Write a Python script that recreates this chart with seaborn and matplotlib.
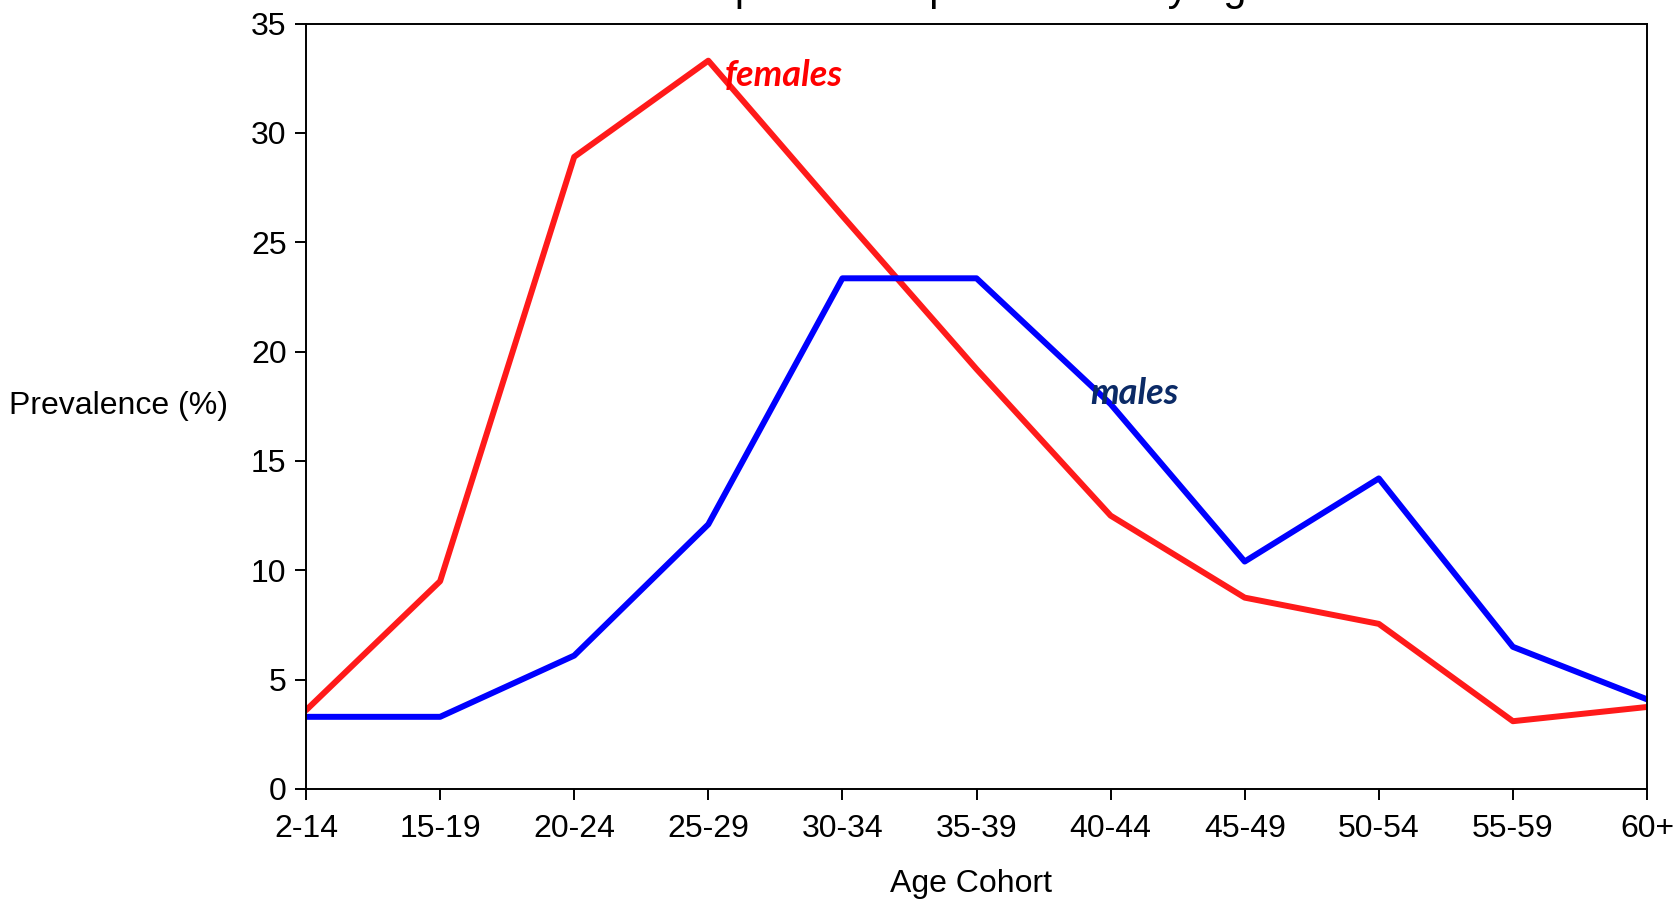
import numpy as np
import pandas as pd
import matplotlib
matplotlib.use('Agg')
import matplotlib.pyplot as plt
import seaborn as sns

# age cohorts and prevalence (%)
cohorts = ['2-14', '15-19', '20-24', '25-29', '30-34', '35-39',
           '40-44', '45-49', '50-54', '55-59', '60+']
females = [3.6, 9.5, 28.9, 33.3, 26.2, 19.2, 12.5, 8.75, 7.55, 3.1, 3.75]
males = [3.3, 3.3, 6.1, 12.1, 23.35, 23.35, 17.6, 10.4, 14.2, 6.5, 4.1]
y_ticks = [0, 5, 10, 15, 20, 25, 30, 35]

df = pd.DataFrame({
    'pos': list(range(len(cohorts))) * 2,
    'prev': females + males,
    'sex': ['females'] * len(cohorts) + ['males'] * len(cohorts),
})

sns.set_style('ticks')
plt.rcParams['font.family'] = ['Liberation Sans', 'DejaVu Sans']
plt.rcParams['text.color'] = 'black'
plt.rcParams['axes.labelcolor'] = 'black'

fig = plt.figure(figsize=(16.76, 9), dpi=100)
ax = fig.add_axes([306/1676, 1-789/900, (1647-306)/1676, (789-23.5)/900])

sns.lineplot(data=df, x='pos', y='prev', hue='sex',
             palette={'females': '#FF1A1A', 'males': '#0000FF'},
             linewidth=4.3, legend=False, ax=ax)

ax.set_xlim(0, len(cohorts) - 1)
ax.set_ylim(0, 35)
ax.set_xticks(range(len(cohorts)))
ax.set_xticklabels(cohorts)
ax.set_yticks(y_ticks)
for s in ax.spines.values():
    s.set_visible(True)
    s.set_color('black')
    s.set_linewidth(1.4)
ax.tick_params(axis='both', labelsize=23, direction='out', length=8, width=1.4,
               colors='black', pad=6)
ax.tick_params(axis='x', pad=10)

ax.set_xlabel('Age Cohort', fontsize=23, va='center')
ax.xaxis.set_label_coords(0.496, -0.124)
ax.set_ylabel('Prevalence (%)', fontsize=23, rotation=0, ha='right', va='center')
ax.yaxis.set_label_coords(-0.058, 0.5)

ax.text(3.12, 32.6, 'females', color='#FF0000', fontsize=26, fontstyle='italic',
        fontweight='bold', family=['Lato', 'DejaVu Sans'], va='center')
ax.text(5.85, 18.1, 'males', color='#0B2A66', fontsize=26, fontstyle='italic',
        fontweight='bold', family=['Lato', 'DejaVu Sans'], va='center')

# title sits above the visible area, only its descenders show
fig.text(0.5716, 1.0005, 'Comparison of prevalence by age', fontsize=30,
         ha='center', va='baseline')

fig.savefig('out.png', dpi=100)
